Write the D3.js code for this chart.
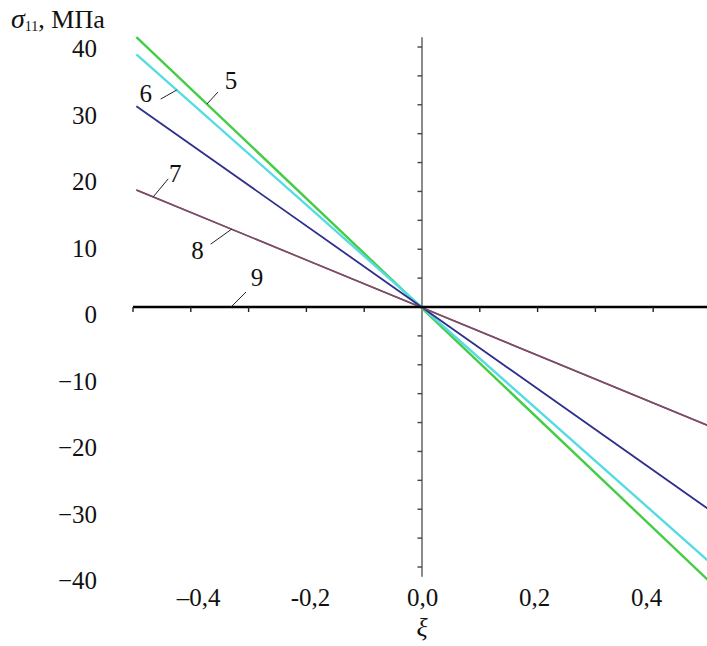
<!DOCTYPE html>
<html>
<head>
<meta charset="utf-8">
<script src="https://cdn.jsdelivr.net/npm/d3@7/dist/d3.min.js"></script>
<style>
  html, body { margin: 0; padding: 0; background: #fff; }
  svg { display: block; }
  text { font-family: "Liberation Serif", "Times New Roman", serif; fill: #111; }
</style>
</head>
<body>
<script>
// Normal stress σ11 across the thickness coordinate ξ
const xiRange = [-0.51, 0.51];
const sigma5 = [40.6, -41.0];
const sigma6 = [38.0, -38.1];
const sigmaMid = [30.2, -30.3];
const sigma7 = [17.6, -17.8];
const sigma8 = [17.6, -17.8];
const sigma9 = [0, 0];

const yTickValues = [40, 30, 20, 10, 0, -10, -20, -30, -40];
const yTickLabels = ["40", "30", "20", "10", "0", "\u221210", "\u221220", "\u221230", "\u221240"];
const xTickValues = [-0.4, -0.2, 0.0, 0.2, 0.4];
const xTickLabels = ["\u20130,4", "-0,2", "0,0", "0,2", "0,4"];

const W = 707, H = 646;
const svg = d3.select("body").append("svg").attr("width", W).attr("height", H);

// data scales
const x = d3.scaleLinear().domain([-0.5, 0.5]).range([142, 702]);
const y = d3.scaleLinear().domain([-40, 40]).range([573, 41]);
// scales of the crossing axes' small tick marks
const xFrame = d3.scaleLinear().domain([-0.5, 0.5]).range([133, 711]);
const yFrame = d3.scaleLinear().domain([-45, 45]).range([567, 47]);

const series = [
  { id: "5", values: sigma5, color: "#45cc45", width: 2.4 },
  { id: "6", values: sigma6, color: "#55dbe2", width: 2.4 },
  { id: "m", values: sigmaMid, color: "#2e2e8c", width: 1.8 },
  { id: "7", values: sigma7, color: "#7c4d68", width: 1.5 },
  { id: "8", values: sigma8, color: "#7c4d68", width: 1.5 }
];

// vertical axis (grey) with small ticks on the left
const yAxisG = svg.append("g").attr("transform", `translate(${x(0)},0)`);
yAxisG.append("line")
  .attr("x1", 0).attr("x2", 0)
  .attr("y1", yFrame(46.7)).attr("y2", yFrame(-46.7))
  .attr("stroke", "#6e6e6e").attr("stroke-width", 1.6);
yAxisG.selectAll("line.tk")
  .data(d3.range(-45, 46, 5).filter(v => v !== 0))
  .join("line").attr("class", "tk")
  .attr("x1", -4.5).attr("x2", 0)
  .attr("y1", d => yFrame(d)).attr("y2", d => yFrame(d))
  .attr("stroke", "#444").attr("stroke-width", 1.4);

// data lines
const line = d3.line().x((d, i) => x(xiRange[i])).y(d => y(d));
svg.append("g").selectAll("path")
  .data(series)
  .join("path")
  .attr("d", d => line(d.values))
  .attr("fill", "none")
  .attr("stroke", d => d.color)
  .attr("stroke-width", d => d.width);

// horizontal axis (curve 9, σ11 = 0) with ticks below
const xAxisG = svg.append("g");
xAxisG.append("line")
  .attr("x1", xFrame(-0.5)).attr("x2", xFrame(0.5))
  .attr("y1", y(sigma9[0])).attr("y2", y(sigma9[1]))
  .attr("stroke", "#000").attr("stroke-width", 2.6);
xAxisG.selectAll("line.tk")
  .data(d3.range(-5, 6).filter(v => v !== 0).map(v => v / 10))
  .join("line").attr("class", "tk")
  .attr("x1", d => xFrame(d)).attr("x2", d => xFrame(d))
  .attr("y1", y(0)).attr("y2", y(0) + 5)
  .attr("stroke", "#222").attr("stroke-width", 1.4);

// tick labels on the left
const yLabels = d3.axisLeft(y)
  .tickValues(yTickValues)
  .tickFormat((d, i) => yTickLabels[i])
  .tickSize(0).tickPadding(0);
svg.append("g").attr("transform", "translate(97,0)").call(yLabels)
  .call(g => g.select(".domain").remove())
  .call(g => g.selectAll("text")
    .attr("font-family", "Liberation Serif").attr("font-size", 25)
    .attr("fill", "#111").attr("dy", 15.5));

// tick labels along the bottom
const xLabels = d3.axisBottom(x)
  .tickValues(xTickValues)
  .tickFormat((d, i) => xTickLabels[i])
  .tickSize(0).tickPadding(0);
svg.append("g").attr("transform", "translate(0,606)").call(xLabels)
  .call(g => g.select(".domain").remove())
  .call(g => g.selectAll("text")
    .attr("font-family", "Liberation Serif").attr("font-size", 25)
    .attr("fill", "#111").attr("dy", 0));

// axis titles
const yTitle = svg.append("text").attr("x", 11).attr("y", 28).attr("font-size", 26);
yTitle.append("tspan").attr("font-style", "italic").attr("font-size", 28).text("\u03c3");
yTitle.append("tspan").attr("font-size", 14).attr("dy", 3).text("11");
yTitle.append("tspan").attr("dy", -3).text(", \u041c\u041f\u0430");

svg.append("text").attr("x", x(0)).attr("y", 636)
  .attr("text-anchor", "middle").attr("font-size", 26)
  .attr("font-style", "italic").text("\u03be");

// curve numbers with leader lines
const valueAt = (vals, xi) =>
  d3.scaleLinear().domain(xiRange).range(vals)(xi);
const callouts = [
  { id: "5", vals: sigma5, xi: -0.384, lead: [11, -12], lab: [24, -24] },
  { id: "6", vals: sigma6, xi: -0.438, lead: [-16, 9], lab: [-31, 3] },
  { id: "7", vals: sigma7, xi: -0.480, lead: [15, -18], lab: [22, -24] },
  { id: "8", vals: sigma8, xi: -0.340, lead: [-21, 15], lab: [-34, 21] },
  { id: "9", vals: sigma9, xi: -0.341, lead: [15, -15], lab: [26, -30] }
];
const cg = svg.append("g");
callouts.forEach(c => {
  const ax = x(c.xi), ay = y(valueAt(c.vals, c.xi));
  cg.append("line")
    .attr("x1", ax).attr("y1", ay)
    .attr("x2", ax + c.lead[0]).attr("y2", ay + c.lead[1])
    .attr("stroke", "#222").attr("stroke-width", 1);
  cg.append("text")
    .attr("x", ax + c.lab[0]).attr("y", ay + c.lab[1] + 9)
    .attr("text-anchor", "middle").attr("font-size", 25)
    .text(c.id);
});
</script>
</body>
</html>
